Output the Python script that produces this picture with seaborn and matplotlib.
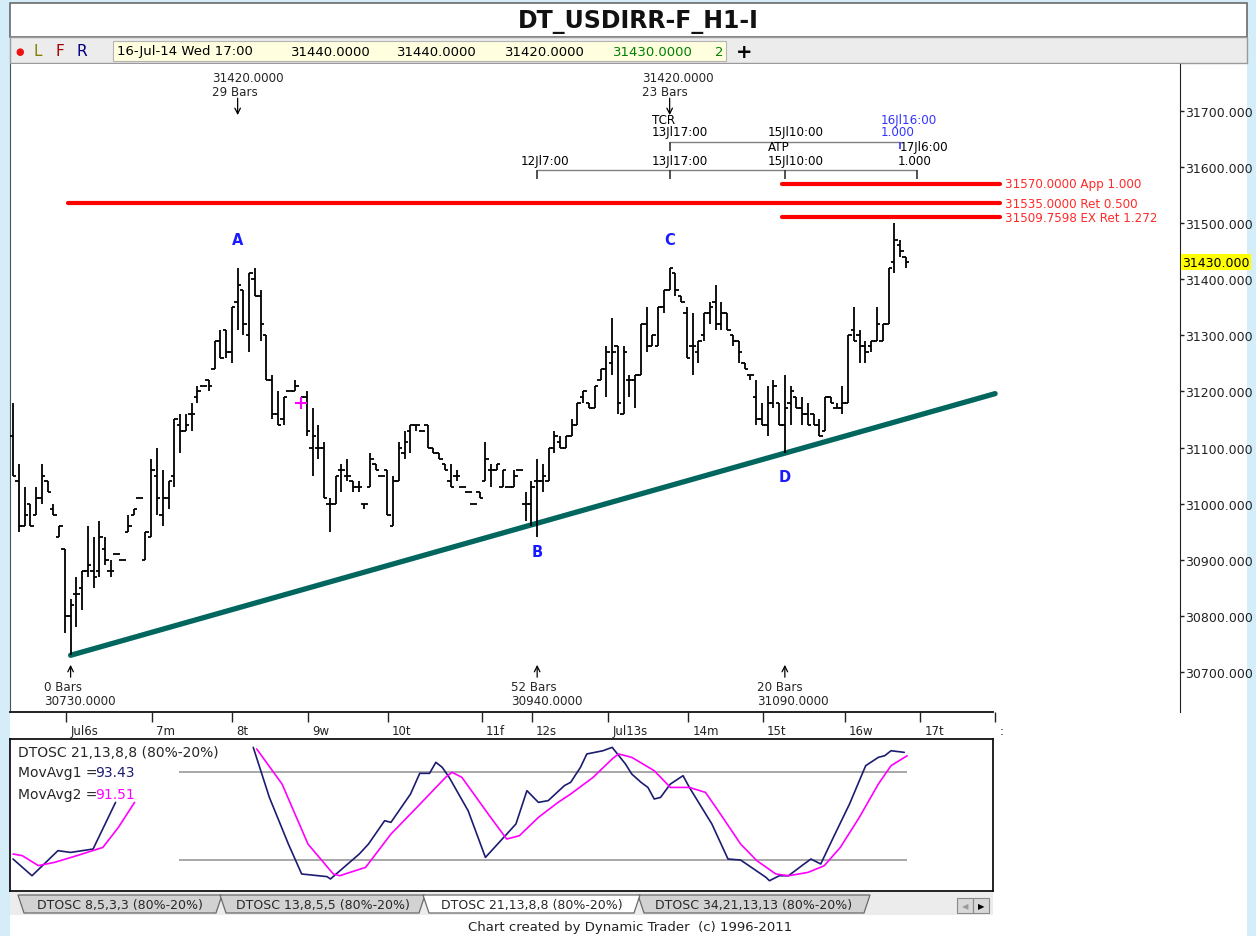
import numpy as np
import pandas as pd
import matplotlib
matplotlib.use("Agg")
import matplotlib.pyplot as plt
import seaborn as sns
from matplotlib.patches import Rectangle, Polygon
from matplotlib import transforms

# -- 价格数据 (每小时一根, 下标 0..155) --
highs = [31180, 31070, 31030, 31000, 31030, 31070, 31040, 31000, 30960, 30920,
         30830, 30870, 30880, 30960, 30940, 30970, 30940, 30900, 30910, 30900,
         30980, 30990, 31010, 30950, 31080, 31100, 31060, 31040, 31150, 31160,
         31160, 31180, 31210, 31210, 31220, 31290, 31310, 31310, 31350, 31420,
         31380, 31410, 31420, 31380, 31300, 31230, 31200, 31190, 31200, 31220,
         31190, 31200, 31170, 31140, 31110, 31010, 31050, 31070, 31080, 31040,
         31040, 31000, 31090, 31070, 31050, 31060, 31050, 31110, 31130, 31140,
         31140, 31130, 31140, 31100, 31090, 31070, 31070, 31060, 31030, 31020,
         31000, 31020, 31110, 31070, 31070, 31060, 31030, 31060, 31060, 31020,
         31040, 31080, 31070, 31100, 31130, 31120, 31120, 31150, 31180, 31200,
         31180, 31210, 31240, 31280, 31330, 31280, 31280, 31230, 31230, 31320,
         31350, 31300, 31350, 31380, 31420, 31410, 31370, 31350, 31340, 31290,
         31340, 31360, 31390, 31360, 31340, 31300, 31290, 31250, 31230, 31220,
         31180, 31210, 31220, 31180, 31230, 31210, 31190, 31190, 31180, 31160,
         31150, 31190, 31190, 31180, 31210, 31300, 31350, 31310, 31290, 31290,
         31350, 31320, 31420, 31500, 31470, 31440]
lows = [31050, 30950, 30960, 30960, 30980, 31000, 31020, 30980, 30940, 30770,
        30730, 30780, 30810, 30870, 30850, 30870, 30890, 30870, 30910, 30900,
        30950, 30980, 31010, 30900, 30940, 30980, 30960, 30990, 31030, 31090,
        31130, 31130, 31180, 31210, 31200, 31240, 31260, 31260, 31250, 31310,
        31300, 31270, 31370, 31290, 31220, 31150, 31140, 31140, 31200, 31200,
        31170, 31120, 31050, 31080, 31010, 30950, 31000, 31020, 31040, 31020,
        31020, 30990, 31030, 31060, 31050, 30980, 30960, 31040, 31080, 31090,
        31130, 31130, 31100, 31090, 31080, 31060, 31030, 31040, 31030, 31020,
        31000, 31010, 31040, 31030, 31060, 31030, 31030, 31030, 31060, 30970,
        30960, 30940, 31020, 31040, 31090, 31100, 31100, 31120, 31140, 31180,
        31170, 31170, 31220, 31190, 31230, 31160, 31160, 31190, 31170, 31230,
        31270, 31280, 31280, 31340, 31380, 31370, 31360, 31260, 31230, 31250,
        31290, 31320, 31310, 31310, 31310, 31280, 31250, 31240, 31220, 31140,
        31140, 31120, 31170, 31140, 31090, 31140, 31170, 31140, 31140, 31140,
        31120, 31130, 31180, 31170, 31160, 31180, 31290, 31250, 31250, 31270,
        31290, 31290, 31320, 31410, 31440, 31420]
opens = [31120, 31040, 30960, 31000, 30980, 31010, 31040, 30990, 30940, 30920,
         30800, 30840, 30850, 30880, 30880, 30880, 30920, 30880, 30910, 30900,
         30950, 30980, 31010, 30900, 30940, 31050, 30980, 31010, 31050, 31140,
         31130, 31160, 31190, 31210, 31220, 31240, 31290, 31310, 31270, 31360,
         31380, 31300, 31400, 31370, 31300, 31220, 31160, 31150, 31200, 31200,
         31180, 31190, 31100, 31100, 31100, 31000, 31000, 31060, 31050, 31040,
         31030, 31000, 31030, 31070, 31050, 31060, 30960, 31040, 31090, 31130,
         31140, 31130, 31140, 31100, 31090, 31070, 31040, 31050, 31030, 31020,
         31000, 31020, 31040, 31060, 31060, 31030, 31030, 31030, 31060, 31000,
         31000, 31040, 31040, 31040, 31100, 31110, 31100, 31120, 31140, 31190,
         31180, 31170, 31220, 31240, 31250, 31280, 31160, 31220, 31220, 31230,
         31320, 31280, 31280, 31350, 31380, 31410, 31370, 31340, 31280, 31270,
         31300, 31340, 31360, 31320, 31340, 31300, 31290, 31250, 31230, 31190,
         31150, 31140, 31180, 31180, 31140, 31180, 31190, 31170, 31160, 31160,
         31140, 31130, 31190, 31170, 31170, 31180, 31310, 31300, 31280, 31280,
         31290, 31290, 31320, 31430, 31460, 31440]
closes = [31050, 30960, 30980, 30960, 31010, 31050, 31020, 30980, 30960, 30800,
          30820, 30840, 30880, 30890, 30870, 30940, 30900, 30880, 30910, 30900,
          30960, 30990, 31010, 30950, 31060, 31010, 31010, 31040, 31150, 31130,
          31140, 31160, 31200, 31210, 31210, 31290, 31260, 31270, 31350, 31390,
          31320, 31410, 31370, 31320, 31220, 31160, 31140, 31190, 31200, 31210,
          31190, 31130, 31120, 31100, 31010, 31000, 31050, 31060, 31050, 31030,
          31030, 31000, 31080, 31060, 31050, 30980, 31040, 31100, 31110, 31140,
          31140, 31130, 31100, 31090, 31080, 31060, 31030, 31050, 31030, 31020,
          31000, 31010, 31080, 31060, 31070, 31060, 31030, 31050, 31060, 31000,
          31030, 31040, 31050, 31100, 31120, 31100, 31120, 31140, 31180, 31200,
          31170, 31210, 31240, 31270, 31270, 31180, 31270, 31220, 31230, 31320,
          31280, 31300, 31350, 31380, 31420, 31380, 31360, 31260, 31280, 31290,
          31340, 31350, 31320, 31340, 31310, 31290, 31270, 31240, 31230, 31150,
          31140, 31180, 31210, 31140, 31170, 31200, 31170, 31160, 31140, 31140,
          31120, 31190, 31180, 31170, 31180, 31300, 31290, 31280, 31270, 31290,
          31320, 31320, 31420, 31470, 31450, 31430]

price_ticks = [30700, 30800, 30900, 31000, 31100, 31200, 31300, 31400, 31500, 31600, 31700]
last_price = 31430

day_ticks = [9.2, 24.1, 38.0, 51.2, 65.1, 81.4, 90.1, 103.3, 117.2, 130.2, 144.4, 157.5, 170.5]
day_labels = ["Jul6s", "7m", "8t", "9w", "10t", "11f", "12s", "Jul13s", "14m", "15t", "16w", "17t", ":"]

# 转折点
pivot_names = ["A", "B", "C", "D"]
pivot_idx = [39, 91, 114, 134]
pivot_price = [31420, 30940, 31420, 31090]
low_idx, low_price = 10, 30730

# 红色价位
levels = [31570.0, 31535.0, 31509.7598]
level_labels = ["31570.0000 App 1.000", "31535.0000 Ret 0.500", "31509.7598 EX Ret 1.272"]
level_start = [133.5, 9.5, 133.5]
level_end = 171.4

# 振荡指标 DTOSC 21,13,8,8 (nan = 被图例遮住)
osc1_idx = [0.0, 3.3, 7.8, 10.0, 13.9, 17.8, 30.0, 41.7, 44.5, 47.8, 50.1, 54.5, 55.1,
            60.1, 61.7, 64.5, 65.6, 69.0, 70.6, 72.3, 73.4, 74.5, 75.7, 79.0, 82.0,
            85.7, 87.3, 89.2, 91.2, 92.9, 95.7, 96.8, 98.5, 99.6, 102.4, 104.0, 106.3,
            107.4, 109.0, 110.2, 111.3, 112.4, 114.1, 116.3, 117.4, 121.3, 124.1, 126.3,
            130.7, 131.3, 133.0, 134.6, 136.9, 138.5, 140.2, 142.4, 145.2, 148.0, 150.2,
            151.3, 152.4, 154.7]
osc1_val = [20.5, 9.1, 26.2, 25.0, 27.3, 59.1, np.nan, 96.6, 62.5, 30.7, 10.3, 8.5, 6.9,
            23.9, 30.7, 46.6, 45.5, 64.8, 78.9, 78.9, 86.4, 83.0, 76.2, 53.4, 21.6,
            37.5, 44.4, 67.1, 59.1, 60.3, 70.5, 72.8, 83.0, 92.1, 94.3, 96.6, 85.3,
            78.4, 72.8, 69.3, 61.4, 62.5, 71.6, 77.3, 69.3, 44.4, 20.5, 19.8,
            8.0, 5.7, 9.1, 9.1, 15.9, 20.5, 17.1, 35.3, 58.0, 84.1, 89.8,
            90.9, 94.3, 93.2]
osc2_idx = [0.0, 1.6, 4.4, 7.2, 11.1, 15.6, 18.3, 21.1, 30.0, 42.3, 46.7, 51.2, 55.6,
            56.7, 61.2, 65.6, 70.1, 75.1, 76.2, 77.9, 82.9, 85.7, 87.9, 91.2, 94.6,
            96.8, 100.7, 104.0, 105.1, 107.4, 111.3, 114.1, 117.4, 120.2, 122.4, 126.3,
            129.1, 132.4, 134.6, 138.0, 140.8, 143.6, 146.9, 150.2, 152.4, 155.2]
osc2_val = [23.9, 22.8, 16.0, 18.2, 22.8, 28.4, 42.1, 59.1, np.nan, 95.5, 71.6, 30.7, 10.3,
            9.1, 14.8, 37.5, 55.7, 76.2, 79.6, 76.2, 48.9, 34.1, 36.4, 48.9, 59.1,
            64.8, 76.2, 88.7, 92.1, 89.8, 80.7, 69.3, 69.3, 65.9, 53.4, 30.7,
            19.4, 10.3, 9.1, 11.4, 15.9, 28.4, 48.9, 71.6, 84.1, 90.9]

tab_names = ["DTOSC 8,5,3,3 (80%-20%)", "DTOSC 13,8,5,5 (80%-20%)",
             "DTOSC 21,13,8,8 (80%-20%)", "DTOSC 34,21,13,13 (80%-20%)"]

# -- 画布 (像素布局) --
W, H = 1256, 937


def fx(px):
    return px / W


def fy(py):
    return 1 - py / H


sns.set_style("white")
plt.rcParams['font.family'] = ['DejaVu Sans']

fig = plt.figure(figsize=(W / 100, H / 100), dpi=100)
fig.patch.set_facecolor('#d5edf8')


def fig_rect(x0, y0, x1, y1, **kw):
    r = Rectangle((fx(x0), fy(y1)), fx(x1) - fx(x0), fy(y0) - fy(y1),
                  transform=fig.transFigure, **kw)
    fig.add_artist(r)
    return r


fig_rect(10, 4, 1247, 937, facecolor='white', edgecolor='none', zorder=-3)
fig_rect(10, 4, 1247, 38, facecolor='white', edgecolor='#6a6a6a', lw=1.2, zorder=-2)
fig_rect(10, 38, 1247, 64, facecolor='#ececec', edgecolor='#9a9a9a', lw=1.0, zorder=-2)
fig_rect(113, 42, 726, 62, facecolor='#ffffe0', edgecolor='#b4b4b4', lw=0.8, zorder=-1)

fig.text(fx(638), fy(22), "DT_USDIRR-F_H1-I", ha='center', va='center',
         fontsize=17, weight='bold', color='#111111')

fig.text(fx(20), fy(52), "\u25cf", color='#ee1111', fontsize=7, ha='center', va='center')
fig.text(fx(38), fy(52), "L", color='#808000', fontsize=11, ha='center', va='center')
fig.text(fx(60), fy(52), "F", color='#a00000', fontsize=11, ha='center', va='center')
fig.text(fx(82), fy(52), "R", color='#000080', fontsize=11, ha='center', va='center')
head_items = [("16-Jul-14 Wed 17:00", 117, 'black'), ("31440.0000", 291, 'black'),
              ("31440.0000", 397, 'black'), ("31420.0000", 505, 'black'),
              ("31430.0000", 613, '#008000'), ("2", 715, '#008000')]
for txt, px, col in head_items:
    fig.text(fx(px), fy(52), txt, color=col, fontsize=9.5, ha='left', va='center')
fig.text(fx(744), fy(52), "+", color='black', fontsize=14, weight='bold', ha='center', va='center')

# -- 主图 --
ax = fig.add_axes([fx(10), fy(713), fx(1180) - fx(10), (713 - 65) / H])
ax.set_facecolor('white')
ax.set_xlim(-0.52, 202.6)
ax.set_ylim(30629, 31783)

x = np.arange(len(highs))
ax.vlines(x, lows, highs, color='black', lw=1.3, zorder=3)
ax.hlines(opens, x - 0.6, x, color='black', lw=1.3, zorder=3)
ax.hlines(closes, x, x + 0.6, color='black', lw=1.3, zorder=3)
ax.plot(50, 31180, marker='+', color='#ff00ff', ms=8, mew=1.5, zorder=4)

# 趋势线 (低点 -> D 点, 延长)
slope = (pivot_price[3] - low_price) / (pivot_idx[3] - low_idx)
trend_x = [low_idx, 170.5]
trend_y = [low_price, low_price + slope * (170.5 - low_idx)]
sns.lineplot(x=trend_x, y=trend_y, ax=ax, color='#00665e', lw=3.8, zorder=2)

ax.hlines(levels, level_start, level_end, colors='#ff0000', lw=3, zorder=2, capstyle='round')
for lv, lab in zip(levels, level_labels):
    ax.text(172.2, lv, lab, color='#ff2a2a', fontsize=8.6, ha='left', va='center', clip_on=False)

# 转折点字母
letter_y = [31471, 30914, 31471, 31048]
for name, px_, ly in zip(pivot_names, pivot_idx, letter_y):
    ax.text(px_, ly, name, color='#1a1aff', fontsize=10.5, weight='bold', ha='center', va='center')

afs = 8.6
arrow_kw = dict(arrowstyle='->', color='black', lw=0.9, shrinkA=0, shrinkB=0)
# 顶部: 高点
for pi in [39, 114]:
    ax.annotate('', xy=(pi, 31692), xytext=(pi, 31722), arrowprops=arrow_kw, annotation_clip=False)
ax.text(34.5, 31770, "31420.0000\n29 Bars", fontsize=afs, ha='left', va='top', linespacing=1.1)
ax.text(109.2, 31770, "31420.0000\n23 Bars", fontsize=afs, ha='left', va='top', linespacing=1.1)
# 底部: 低点
for pi, left, p, nb in [(10, 5.4, 30730, 0), (91, 86.5, 30940, 52), (134, 129.2, 31090, 20)]:
    ax.annotate('', xy=(pi, 30713), xytext=(pi, 30691), arrowprops=arrow_kw, annotation_clip=False)
    ax.text(left, 30686, f"{nb} Bars\n{p:.4f}", fontsize=afs, ha='left', va='top', linespacing=1.1)

# 时间周期标尺
ax.hlines(31594, 91, 157, colors='#808080', lw=1.0)
ax.vlines([91, 114, 134, 157], 31578, 31594, colors='#333333', lw=1.2)
ax.hlines(31644, 114, 154, colors='#808080', lw=1.0)
ax.vlines(114, 31628, 31644, colors='#333333', lw=1.2)
ax.vlines(154, 31632, 31644, colors='#3333ff', lw=1.2)
time_txt = [("TCR", 110.9, 31685, 'black'), ("13Jl17:00", 110.9, 31662, 'black'),
            ("15Jl10:00", 131.1, 31662, 'black'), ("ATP", 131.1, 31636, 'black'),
            ("16Jl16:00", 150.7, 31685, '#3333ff'), ("1.000", 150.7, 31662, '#3333ff'),
            ("17Jl6:00", 153.9, 31636, 'black'), ("12Jl7:00", 88.2, 31612, 'black'),
            ("13Jl17:00", 110.9, 31612, 'black'), ("15Jl10:00", 131.1, 31612, 'black'),
            ("1.000", 153.6, 31612, 'black')]
for txt, tx, ty, col in time_txt:
    ax.text(tx, ty, txt, color=col, fontsize=afs, ha='left', va='center')

# 价格轴
ax.yaxis.tick_right()
ax.set_yticks(price_ticks)
ax.set_yticklabels([f"{p:.3f}" for p in price_ticks])
ax.tick_params(axis='y', right=True, left=False, direction='out', length=3, width=1,
               pad=1, labelsize=9, colors='#222222')
ax.text(1.002, last_price, f"{last_price:.3f}", transform=ax.get_yaxis_transform(),
        fontsize=9, ha='left', va='center', color='black',
        bbox=dict(facecolor='#ffff00', edgecolor='none', pad=1.0))

ax.set_xticks(day_ticks)
ax.set_xticklabels(day_labels)
ax.tick_params(axis='x', bottom=True, direction='out', length=7, width=1, pad=2,
               labelsize=8.5, colors='#222222')
offset = transforms.ScaledTranslation(3 / 72, 0, fig.dpi_scale_trans)
for lab in ax.get_xticklabels():
    lab.set_horizontalalignment('left')
    lab.set_transform(lab.get_transform() + offset)

ax.spines['top'].set_visible(False)
ax.spines['left'].set_color('#505050')
ax.spines['right'].set_color('#222222')
ax.spines['bottom'].set_color('#222222')
ax.spines['bottom'].set_linewidth(1.4)
ax.spines['bottom'].set_bounds(-0.52, 170.1)

# -- 振荡指标面板 --
axo = fig.add_axes([fx(10), fy(892), fx(993) - fx(10), (892 - 740) / H])
axo.set_xlim(-0.52, 170.1)
axo.set_ylim(-1.3, 102.3)
axo.set_xticks([])
axo.set_yticks([])
for sp in axo.spines.values():
    sp.set_color('#111111')
    sp.set_linewidth(1.3)
axo.hlines([80, 20], 28.9, 155.2, colors='#a0a0a0', lw=1.3, zorder=1)


def osc_frame(idx, val, name):
    df = pd.DataFrame({'idx': idx, 'val': val})
    df['seg'] = df['val'].isna().cumsum()
    df['series'] = name
    return df.dropna()


osc = pd.concat([osc_frame(osc1_idx, osc1_val, 'MovAvg1'),
                 osc_frame(osc2_idx, osc2_val, 'MovAvg2')], ignore_index=True)
sns.lineplot(data=osc, x='idx', y='val', hue='series', units='seg', estimator=None,
             palette={'MovAvg1': '#1c1c70', 'MovAvg2': '#ff00ff'}, legend=False,
             ax=axo, lw=1.2, sort=False)
axo.set_xlabel('')
axo.set_ylabel('')

fig.text(fx(18), fy(753), "DTOSC 21,13,8,8 (80%-20%)", fontsize=10, ha='left', va='center')
fig.text(fx(18), fy(773), "MovAvg1 =", fontsize=10, ha='left', va='center')
fig.text(fx(95), fy(773), "93.43", fontsize=10, ha='left', va='center', color='#1c1c70')
fig.text(fx(18), fy(795), "MovAvg2 =", fontsize=10, ha='left', va='center')
fig.text(fx(95), fy(795), "91.51", fontsize=10, ha='left', va='center', color='#ff00ff')

# -- 标签页 --
fig_rect(10, 893, 993, 916, facecolor='#ececec', edgecolor='none', zorder=-1)
tab_x = [(18, 222), (220, 425), (423, 640), (638, 870)]
for k, ((x0, x1), name) in enumerate(zip(tab_x, tab_names)):
    pts = [(fx(x0), fy(896)), (fx(x1), fy(896)), (fx(x1 - 6), fy(914)), (fx(x0 + 6), fy(914))]
    fc = 'white' if k == 2 else '#d2d2d2'
    fig.add_artist(Polygon(pts, closed=True, transform=fig.transFigure, facecolor=fc,
                           edgecolor='#6a6a6a', lw=0.9, zorder=2 if k == 2 else 1))
    fig.text(fx((x0 + x1) / 2), fy(906), name, fontsize=9, ha='center', va='center')
fig_rect(957, 899, 973, 914, facecolor='#d8d8d8', edgecolor='#8a8a8a', lw=0.8, zorder=1)
fig_rect(973, 899, 989, 914, facecolor='#d8d8d8', edgecolor='#8a8a8a', lw=0.8, zorder=1)
fig.text(fx(965), fy(906.5), "\u25c0", fontsize=6, color='#9a9a9a', ha='center', va='center')
fig.text(fx(981), fy(906.5), "\u25b6", fontsize=6, color='black', ha='center', va='center')

fig.text(fx(630), fy(928), "Chart created by Dynamic Trader  (c) 1996-2011",
         fontsize=9.5, ha='center', va='center', color='#222222')

fig.savefig("out.png", dpi=100, facecolor=fig.get_facecolor())
